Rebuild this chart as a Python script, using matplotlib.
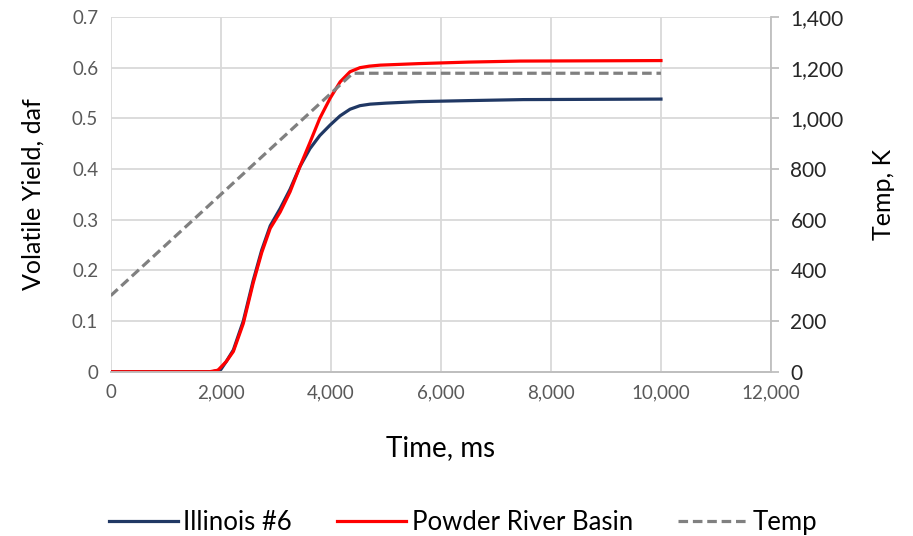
import matplotlib
matplotlib.use('agg')
from matplotlib import pyplot as plt
from matplotlib.ticker import FuncFormatter

plt.rcParams['font.family'] = ['Lato', 'DejaVu Sans']

# data
time_ill = [0, 1850, 2000, 2100, 2230, 2410, 2590, 2745, 2900, 3080, 3260, 3440, 3620,
            3800, 3990, 4170, 4350, 4530, 4715, 5000, 5600, 6500, 7500, 10000]
yield_ill = [0, 0, 0.004, 0.02, 0.043, 0.10, 0.18, 0.24, 0.288, 0.322, 0.36, 0.405, 0.44,
             0.466, 0.487, 0.505, 0.518, 0.525, 0.528, 0.530, 0.533, 0.535, 0.537, 0.538]

time_prb = [0, 1800, 1950, 2100, 2230, 2410, 2590, 2745, 2900, 3080, 3260, 3440, 3620,
            3800, 3990, 4170, 4350, 4530, 4700, 4900, 5600, 6500, 7440, 10000]
yield_prb = [0, 0, 0.003, 0.02, 0.04, 0.095, 0.175, 0.235, 0.283, 0.315, 0.355, 0.405, 0.452,
             0.50, 0.54, 0.572, 0.592, 0.600, 0.603, 0.605, 0.608, 0.611, 0.613, 0.614]

time_temp = [0, 4400, 10000]
temp_k = [300, 1178, 1178]

xticks = [0, 2000, 4000, 6000, 8000, 10000, 12000]
yticks = [0, 0.1, 0.2, 0.3, 0.4, 0.5, 0.6, 0.7]
ytick_labels = ['0', '0.1', '0.2', '0.3', '0.4', '0.5', '0.6', '0.7']

comma = FuncFormatter(lambda v, p: '{:,.0f}'.format(v))

f = plt.figure(figsize=(9.13, 5.36), dpi=100)
ax = f.add_axes([0.1212, 0.3065, 0.7233, 0.6618])
ax2 = ax.twinx()

ax.plot(time_ill, yield_ill, color='#203864', lw=2.3, label='Illinois #6', zorder=3)
ax.plot(time_prb, yield_prb, color='#ff0000', lw=2.3, label='Powder River Basin', zorder=4)
ax2.plot(time_temp, temp_k, color='#808080', lw=2.3, ls=(0, (3, 1.5)), label='Temp')

ax.set_xlim(0, 12000)
ax.set_ylim(0, 0.7)
ax2.set_ylim(0, 1400)
ax.set_xticks(xticks)
ax.set_yticks(yticks)
ax.set_yticklabels(ytick_labels)
ax2.set_yticks(range(0, 1401, 200))
ax.xaxis.set_major_formatter(comma)
ax2.yaxis.set_major_formatter(comma)

ax.grid(True, color='#d9d9d9', lw=1.3)
ax.set_axisbelow(True)
for a in (ax, ax2):
    for s in ('top', 'left', 'right'):
        a.spines[s].set_visible(False)
    a.spines['bottom'].set_color('#bfbfbf')
    a.spines['bottom'].set_linewidth(1.3)
ax.tick_params(length=0, labelsize=13.5, colors='#595959', pad=9)
ax2.spines['right'].set_visible(True)
ax2.spines['right'].set_color('#bfbfbf')
ax2.spines['right'].set_linewidth(1.3)
ax2.tick_params(axis='y', length=6, width=1.3, color='#bfbfbf', labelsize=15,
                labelcolor='#262626', pad=8)

ax.set_xlabel('Time, ms', fontsize=20, labelpad=24)
ax.set_ylabel('Volatile Yield, daf', fontsize=18, labelpad=20)
ax2.set_ylabel('Temp, K', fontsize=18, labelpad=20)

h1, l1 = ax.get_legend_handles_labels()
h2, l2 = ax2.get_legend_handles_labels()
f.legend(h1 + h2, l1 + l2, loc='center', bbox_to_anchor=(0.507, 0.026), ncol=3,
         frameon=False, fontsize=18.5, handlelength=2.7, handletextpad=0.2,
         columnspacing=1.75)

f.savefig('out.png', dpi=100)
